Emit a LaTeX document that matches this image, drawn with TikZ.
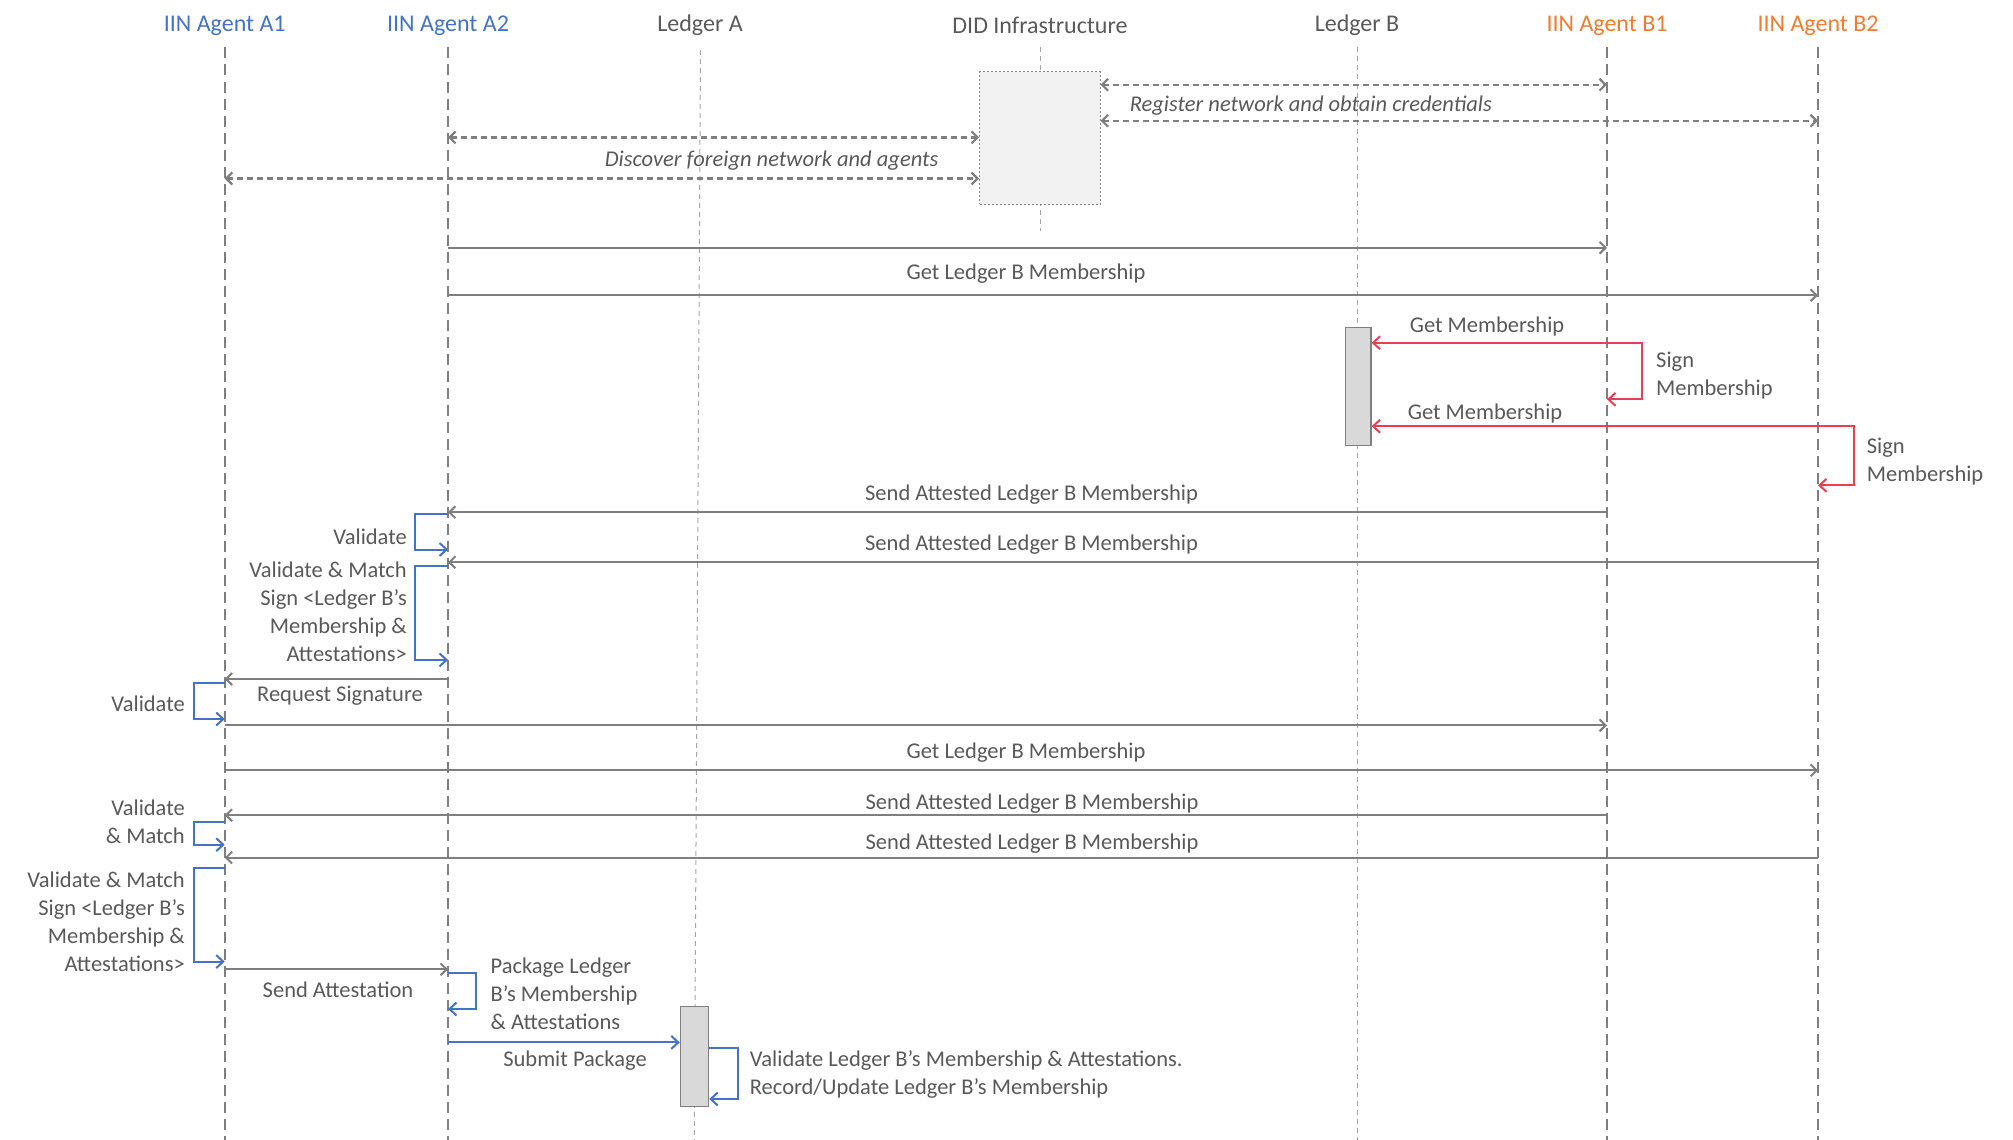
\documentclass[tikz,border=0pt]{standalone}
\usepackage{fontspec}
\setmainfont{Carlito}
\usetikzlibrary{arrows.meta}
\definecolor{hblue}{HTML}{4472C4}
\definecolor{horange}{HTML}{ED7D31}
\definecolor{tgray}{HTML}{595959}
\definecolor{lgray}{HTML}{7F7F7F}
\definecolor{llgray}{HTML}{A6A6A6}
\definecolor{mred}{HTML}{E84050}
\definecolor{boxgray}{HTML}{D9D9D9}
\definecolor{didfill}{HTML}{F2F2F2}
\begin{document}
\begin{tikzpicture}[x=1pt,y=-1pt,
  every node/.style={font=\fontsize{22.5}{28}\selectfont, text=tgray, inner sep=0pt, yshift=-2.5pt},
  hdr/.style={font=\fontsize{24}{28}\selectfont},
  agentline/.style={draw=lgray, line width=1.6pt, dash pattern=on 11pt off 6pt},
  ledgerline/.style={draw=llgray, line width=1pt, dash pattern=on 5pt off 4pt},
  msg/.style={draw=lgray, line width=2pt, -{Straight Barb[length=6pt,width=12pt]}},
  dmsg/.style={draw=lgray, line width=2.2pt, dash pattern=on 6pt off 4pt,
     {Straight Barb[length=6pt,width=12pt]}-{Straight Barb[length=6pt,width=12pt]}},
  redmsg/.style={draw=mred, line width=2pt, -{Straight Barb[length=7pt,width=13pt]}},
  bluemsg/.style={draw=hblue, line width=2pt, -{Straight Barb[length=7pt,width=13pt]}},
  actbox/.style={draw=lgray, fill=boxgray, line width=1.2pt, yshift=2.5pt},
  didbox/.style={draw=lgray, fill=didfill, line width=1pt, dash pattern=on 2pt off 2pt, yshift=2.5pt},
  ital/.style={font=\fontsize{22.5}{28}\selectfont\itshape},
  rlbl/.style={anchor=north east, align=right},
  llbl/.style={anchor=north west, align=left}
]
\useasboundingbox (0,0) rectangle (2013,1140);

% lifeline x positions
\coordinate (xA1) at (224.7,0);
\coordinate (xA2) at (448,0);
\coordinate (xLAt) at (700.5,47.5);
\coordinate (xLAb) at (694.3,1140);
\coordinate (xDID) at (1040,0);
\coordinate (xLB) at (1357.8,0);
\coordinate (xB1) at (1607,0);
\coordinate (xB2) at (1818,0);

% headers
\node[hdr, text=hblue] (hA1) at (224.7,23) {IIN Agent A1};
\node[hdr, text=hblue] (hA2) at (448,23) {IIN Agent A2};
\node[hdr] (hLA) at (700,23) {Ledger A};
\node[hdr] (hDID) at (1040,23) {DID Infrastructure};
\node[hdr] (hLB) at (1357,23) {Ledger B};
\node[hdr, text=horange] (hB1) at (1607,23) {IIN Agent B1};
\node[hdr, text=horange] (hB2) at (1818,23) {IIN Agent B2};

% lifelines
\draw[agentline] (xA1 |- 0,47.5) -- (xA1 |- 0,1140);
\draw[agentline] (xA2 |- 0,47.5) -- (xA2 |- 0,1140);
\draw[agentline] (xB1 |- 0,47.5) -- (xB1 |- 0,1140);
\draw[agentline] (xB2 |- 0,47.5) -- (xB2 |- 0,1140);
\draw[ledgerline] (xLAt) -- (xLAb);
\draw[ledgerline] (xLB |- 0,47.5) -- (xLB |- 0,1140);
\draw[ledgerline] (xDID |- 0,47.5) -- (xDID |- 0,231);

% boxes
\node[didbox, minimum width=120.5pt, minimum height=132pt] (DID) at (1039.8,138) {};
\node[actbox, minimum width=25.6pt, minimum height=118pt] (LBbox) at (1358.2,386.5) {};
\node[actbox, minimum width=28.3pt, minimum height=100pt] (LAbox) at (694.5,1056.5) {};

% DID interactions
\draw[dmsg] (DID.east |- 0,84.7) -- (xB1 |- 0,84.7);
\node[ital] (lReg) at (1310.8,103) {Register network and obtain credentials};
\draw[dmsg] (DID.east |- 0,120.7) -- (xB2 |- 0,120.7);
\draw[dmsg] (xA2 |- 0,137.4) -- (DID.west |- 0,137.4);
\node[ital] (lDisc) at (771.6,158) {Discover foreign network and agents};
\draw[dmsg] (xA1 |- 0,178.5) -- (DID.west |- 0,178.5);

% A2 gets membership
\draw[msg] (xA2 |- 0,247.8) -- (xB1 |- 0,247.8);
\node (lGet1) at (1026,271) {Get Ledger B Membership};
\draw[msg] (xA2 |- 0,295.3) -- (xB2 |- 0,295.3);

% B agents query ledger B
\draw[redmsg] (xB1 |- 0,342.8) -- (LBbox.east |- 0,342.8);
\node (lGM1) at (1487,323.5) {Get Membership};
\draw[redmsg] (xB1 |- 0,342.8) -| (1642,399.3) -- (xB1 |- 0,399.3);
\node[llbl] (lSM1) at (1656,349.5) {Sign\\Membership};
\draw[redmsg] (xB2 |- 0,426.2) -- (LBbox.east |- 0,426.2);
\node (lGM2) at (1485,410.8) {Get Membership};
\draw[redmsg] (xB2 |- 0,426.2) -| (1854,485.3) -- (xB2 |- 0,485.3);
\node[llbl] (lSM2) at (1866.6,435.5) {Sign\\Membership};

% replies to A2
\draw[msg] (xB1 |- 0,512.2) -- (xA2 |- 0,512.2);
\node (lSA1) at (1031.5,491.7) {Send Attested Ledger B Membership};
\draw[bluemsg] (xA2 |- 0,513.5) -| (414.7,549.5) -- (xA2 |- 0,549.5);
\node[anchor=east] (lVal1) at (407,534) {Validate};
\draw[msg] (xB2 |- 0,562.3) -- (xA2 |- 0,562.3);
\node (lSA2) at (1031.5,541.8) {Send Attested Ledger B Membership};
\draw[bluemsg] (xA2 |- 0,566.2) -| (414.7,659.9) -- (xA2 |- 0,659.9);
\node[rlbl] (lVM1) at (407,558.7) {Validate \& Match\\Sign <Ledger B’s\\Membership \&\\Attestations>};

% request signature
\draw[msg] (xA2 |- 0,679) -- (xA1 |- 0,679);
\node (lReq) at (340,693) {Request Signature};
\draw[bluemsg] (xA1 |- 0,683) -| (193.9,719) -- (xA1 |- 0,719);
\node[anchor=east] (lVal2) at (185,701) {Validate};

% A1 gets membership
\draw[msg] (xA1 |- 0,725.3) -- (xB1 |- 0,725.3);
\node (lGet2) at (1026,749.7) {Get Ledger B Membership};
\draw[msg] (xA1 |- 0,770.3) -- (xB2 |- 0,770.3);
\draw[msg] (xB1 |- 0,815.2) -- (xA1 |- 0,815.2);
\node (lSA3) at (1032,801) {Send Attested Ledger B Membership};
\draw[bluemsg] (xA1 |- 0,821.6) -| (193.9,844.7) -- (xA1 |- 0,844.7);
\node[rlbl] (lVM2) at (185,797.5) {Validate\\\& Match};
\draw[msg] (xB2 |- 0,857.6) -- (xA1 |- 0,857.6);
\node (lSA4) at (1032,841) {Send Attested Ledger B Membership};
\draw[bluemsg] (xA1 |- 0,867.9) -| (193.9,961.6) -- (xA1 |- 0,961.6);
\node[rlbl] (lVM3) at (185,869.4) {Validate \& Match\\Sign <Ledger B’s\\Membership \&\\Attestations>};

% attestation to A2
\draw[msg] (xA1 |- 0,969.3) -- (xA2 |- 0,969.3);
\node (lSAtt) at (338,987.2) {Send Attestation};
\draw[bluemsg] (xA2 |- 0,973) -| (476.3,1009) -- (xA2 |- 0,1009);
\node[llbl] (lPkg) at (490.4,955.4) {Package Ledger\\B’s Membership\\\& Attestations};

% submit to ledger A
\draw[bluemsg] (xA2 |- 0,1042.4) -- (LAbox.west |- 0,1042.4);
\node (lSub) at (575,1058) {Submit Package};
\draw[bluemsg] (LAbox.east |- 0,1047.6) -| (738.2,1099) -- (LAbox.east |- 0,1099);
\node[llbl] (lRec) at (749.7,1048) {Validate Ledger B’s Membership \& Attestations.\\Record/Update Ledger B’s Membership};
\end{tikzpicture}
\end{document}
